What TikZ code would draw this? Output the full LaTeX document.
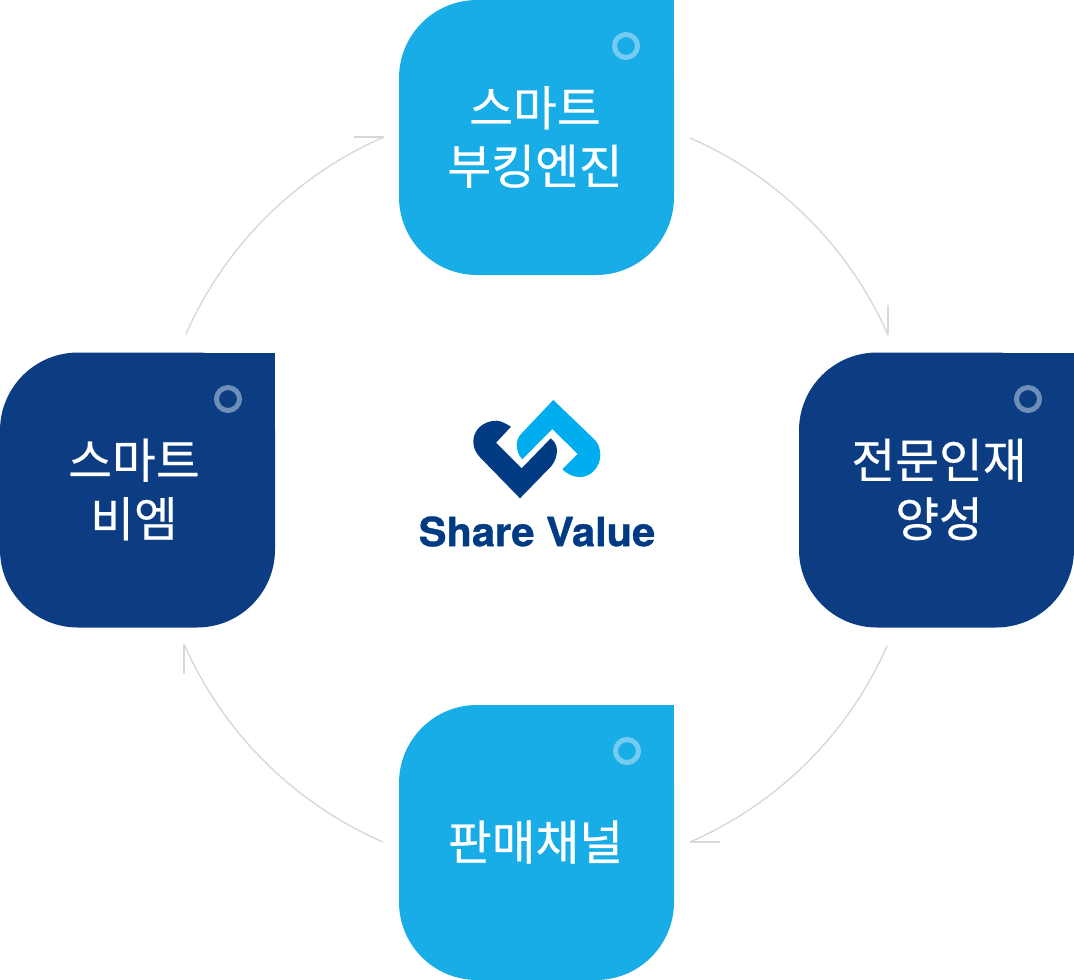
\documentclass[tikz,border=0pt]{standalone}
\usepackage{fontspec}
\setmainfont{Liberation Sans}
\newfontfamily\krfont[FakeBold=0.4]{Noto Sans CJK KR}
\newfontfamily\brandfont[FakeStretch=1.04,FakeBold=1]{TeX Gyre Heros Bold}
\definecolor{lightbox}{HTML}{18ADE7}
\definecolor{darkbox}{HTML}{0C3D82}
\definecolor{lightring}{HTML}{75CBF0}
\definecolor{darkring}{HTML}{6F8FB8}
\definecolor{logodark}{HTML}{003B83}
\definecolor{logolight}{HTML}{00AEEF}
\definecolor{arcgrey}{HTML}{D8D8D8}
\tikzset{
  x=1pt,y=-1pt,
  cardbox/.style={minimum width=275pt,minimum height=275pt,inner sep=0pt,outer sep=0pt,rounded corners=78pt,text=white,align=center,
    font=\krfont\fontsize{47.6}{58.5}\selectfont},
  ring/.style={circle,draw,line width=5pt,minimum size=23pt,inner sep=0pt},
  cyclearc/.style={draw=arcgrey,line width=1.4pt,bend left=21.35,looseness=0.885},
  barb/.style={draw=arcgrey,line width=1.4pt},
}
\newcommand{\squarecorner}[2]{\fill[#2] (#1.north east) rectangle ++(-80,80);}
\begin{document}
\begin{tikzpicture}
\useasboundingbox (0,0) rectangle (1074,980);
% boxes
\node[cardbox,fill=lightbox] (top) at (536.5,137.5) {};
\squarecorner{top}{lightbox}
\node[cardbox,fill=darkbox] (right) at (936.5,490) {};
\squarecorner{right}{darkbox}
\node[cardbox,fill=lightbox] (bottom) at (536.5,842.5) {};
\squarecorner{bottom}{lightbox}
\node[cardbox,fill=darkbox] (left) at (137.5,490) {};
\squarecorner{left}{darkbox}
% labels
\node[cardbox,rounded corners=0pt] (toplabel) at (535,137) {스마트\\부킹엔진};
\node[cardbox,rounded corners=0pt] (rightlabel) at (939,489.5) {전문인재\\양성};
\node[cardbox,rounded corners=0pt] (bottomlabel) at (535.5,842) {판매채널};
\node[cardbox,rounded corners=0pt] (leftlabel) at (134,489.5) {스마트\\비엠};
% rings
\node[ring,draw=lightring] (ringtop) at (626,46) {};
\node[ring,draw=darkring] (ringright) at (1028,399) {};
\node[ring,draw=lightring] (ringbottom) at (627,751) {};
\node[ring,draw=darkring] (ringleft) at (228,399) {};
% connector ends
\coordinate (a1) at (690,138);
\coordinate (a2) at (888,335);
\coordinate (a2b) at (888,305);
\coordinate (b1) at (887,646);
\coordinate (b2) at (690,842);
\coordinate (b2b) at (720,842);
\coordinate (c1) at (383,842);
\coordinate (c2) at (184,644);
\coordinate (c2b) at (184,674);
\coordinate (d1) at (186,334);
\coordinate (d2) at (384,137);
\coordinate (d2b) at (354,137);
\draw[cyclearc] (a1) to (a2);
\draw[barb] (a2) -- (a2b);
\draw[cyclearc] (b1) to (b2);
\draw[barb] (b2) -- (b2b);
\draw[cyclearc] (c1) to (c2);
\draw[barb] (c2) -- (c2b);
\draw[cyclearc] (d1) to (d2);
\draw[barb] (d2) -- (d2b);
% logo
\fill[logolight] (553.3,400) -- (595,440) .. controls (598.5,444) and (600.3,449) .. (600.3,455)
  .. controls (600.3,467) and (591,477) .. (580,477) .. controls (573,477) and (567,474) .. (562.3,469.3)
  -- (577.7,454) -- (552.3,429) -- (522.3,459.3)
  .. controls (518.5,455) and (516.7,450) .. (516.7,445) .. controls (516.7,440.5) and (518.5,436.5) .. (521.7,433.3) -- cycle;
\fill[logodark] (511,426.7) .. controls (505,423) and (500,420.7) .. (496.7,420.7)
  .. controls (483,420.7) and (473.3,430) .. (473.3,441.7) .. controls (473.3,448) and (476,453) .. (480,457.3)
  -- (520,498.3) -- (551,466.5) .. controls (555,462) and (557,456) .. (557,450)
  .. controls (557,445) and (554,441) .. (550.7,438.3) -- (521.7,468.3) -- (496,442.7) -- cycle;
\node[text=logodark,font=\brandfont\fontsize{40}{40}\selectfont,inner sep=0pt] (brand) at (537,531.5) {Share Value};
\end{tikzpicture}
\end{document}
